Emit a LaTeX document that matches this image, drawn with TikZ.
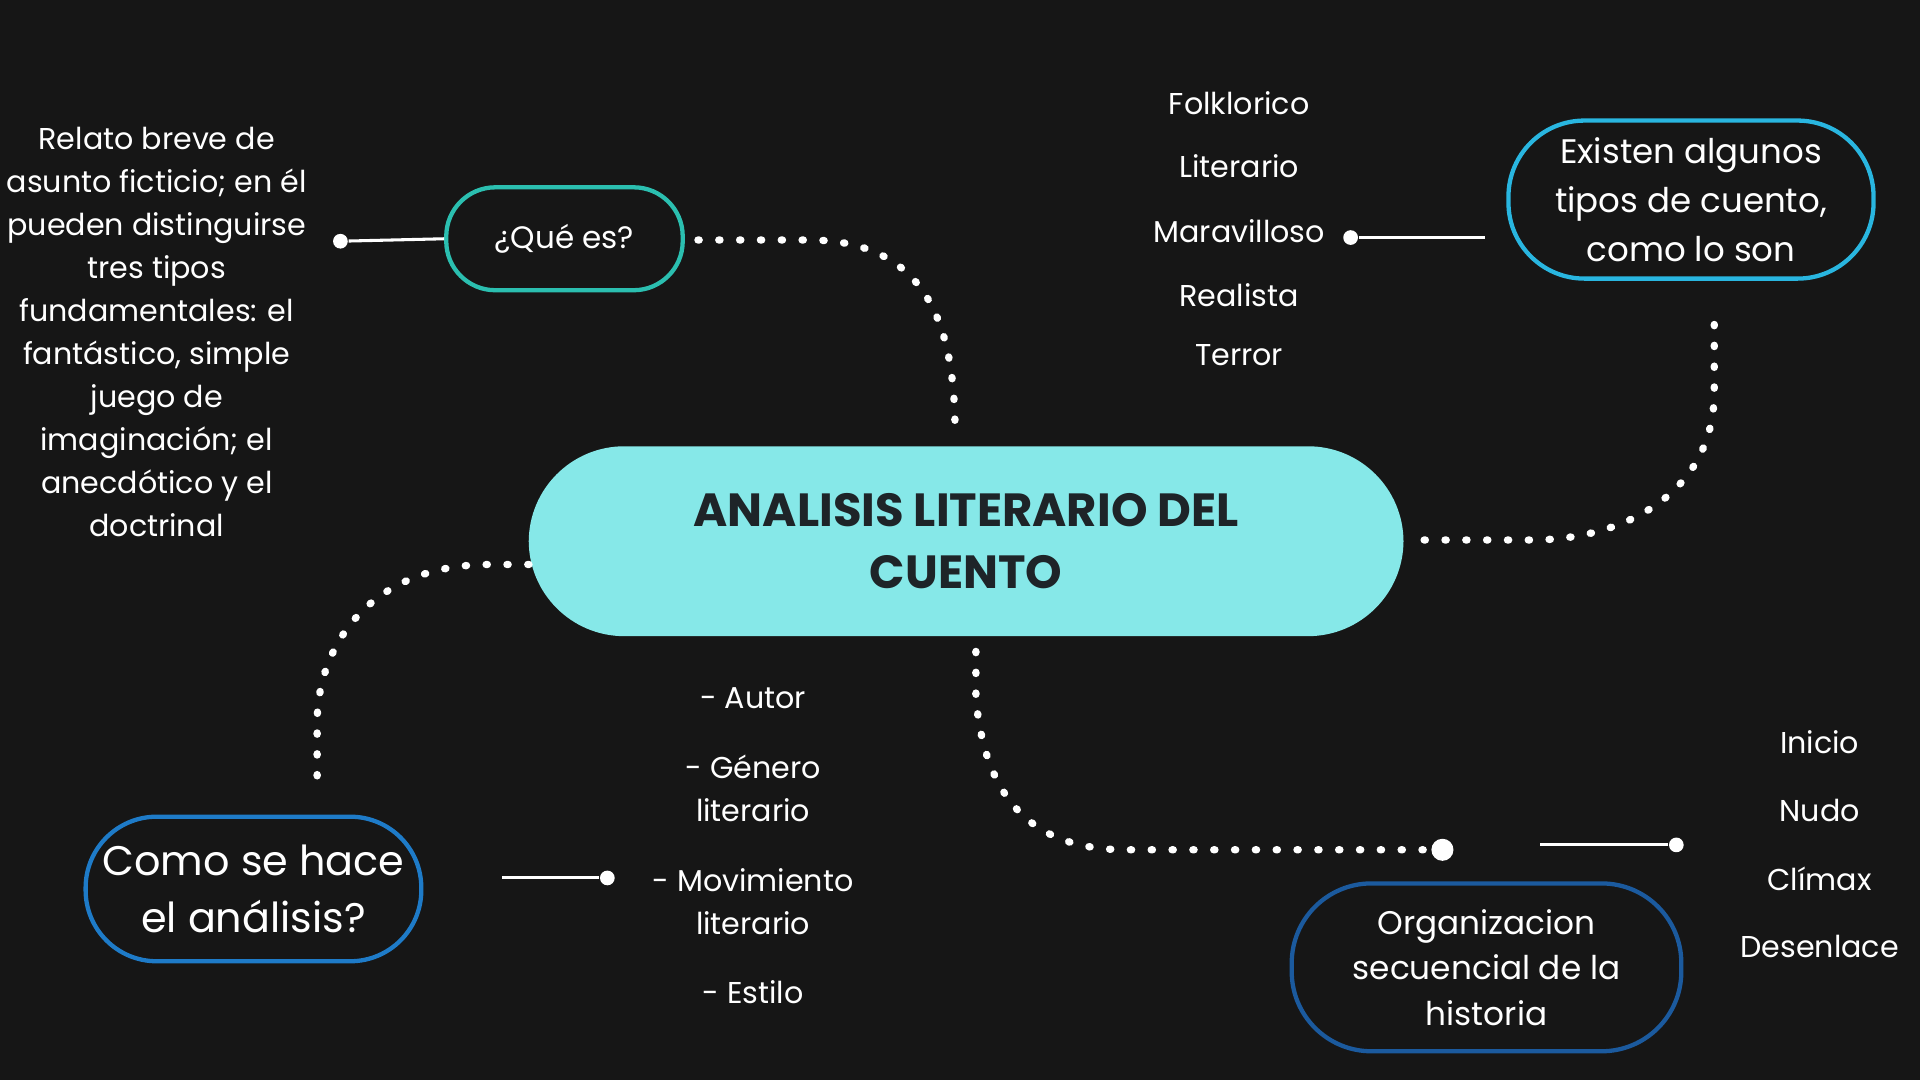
\documentclass[tikz,border=0pt]{standalone}
\usepackage{fontspec}
\setmainfont{Poppins}
\begin{document}
\begin{tikzpicture}[x=0.01cm,y=-0.01cm,
  dots/.style={white,line width=0.06cm,line cap=round,dash pattern=on 0.01cm off 0.16cm},
  thin/.style={white,line width=0.025cm},
  txt/.style={text=white,align=center,font=\fontsize{7}{10}\selectfont},
  box/.style={draw,line width=0.035cm,rounded corners=0.4cm,text=white,align=center},
  dot/.style={circle,fill=white,inner sep=0,minimum size=0.12cm}]
\fill[fill={rgb,255:red,22;green,22;blue,22}] (0,0) rectangle (1568,882);
\useasboundingbox (0,0) rectangle (1568,882);
% centre
\node[fill={rgb,255:red,134;green,232;blue,232},rounded corners=0.78cm,minimum width=7.14cm,minimum height=1.55cm,align=center,font=\fontsize{10.8}{14.5}\selectfont\bfseries,text={rgb,255:red,30;green,36;blue,40}] (c) at (789,442) {ANALISIS LITERARIO DEL\\CUENTO};
% que es
\node[box,draw={rgb,255:red,43;green,191;blue,176},minimum width=1.93cm,minimum height=0.84cm,font=\fontsize{7.2}{10}\selectfont] (q) at (461,195) {¿Qué es?};
\node[dot] (qd) at (278,197) {};
\draw[thin] (qd) -- (q.west);
\node[txt] (qt) at (128,271) {Relato breve de\\asunto ficticio; en él\\pueden distinguirse\\tres tipos\\fundamentales: el\\fantástico, simple\\juego de\\imaginación; el\\anecdótico y el\\doctrinal};
\coordinate (a1) at (570,196);
\coordinate (a2) at (780,355);
\draw[dots] (a1) -- (660,196) .. controls (760,196) and (780,270) .. (a2);
% tipos
\node[box,draw={rgb,255:red,41;green,182;blue,224},rounded corners=0.62cm,minimum width=2.98cm,minimum height=1.29cm,font=\fontsize{7.9}{11.4}\selectfont] (t) at (1381,163) {Existen algunos\\tipos de cuento,\\como lo son};
\node[dot] (td) at (1103,194) {};
\coordinate (te) at (1213,194);
\draw[thin] (td) -- (te);
\foreach \s/\y [count=\i] in {Folklorico/84,Literario/136,Maravilloso/189,Realista/241,Terror/290}
  \node[txt] (tl\i) at (1012,\y) {\s};
\coordinate (b1) at (1400,265);
\coordinate (b2) at (1150,441);
\draw[dots] (b1) -- (1400,320) .. controls (1400,400) and (1330,441) .. (1250,441) -- (b2);
% como
\node[box,draw={rgb,255:red,30;green,123;blue,200},rounded corners=0.58cm,minimum width=2.74cm,minimum height=1.18cm,font=\fontsize{9.6}{13.2}\selectfont] (m) at (207,726) {Como se hace\\el análisis?};
\coordinate (c1) at (432,461);
\coordinate (c2) at (259,640);
\draw[dots] (c1) -- (400,461) .. controls (300,461) and (259,530) .. (259,590) -- (c2);
\coordinate (ms) at (410,717);
\node[dot] (md) at (496,717) {};
\draw[thin] (ms) -- (md);
\node[txt] (m1) at (615,570) {- Autor};
\node[txt] (m2) at (615,644) {- Género\\literario};
\node[txt] (m3) at (615,736) {- Movimiento\\literario};
\node[txt] (m4) at (615,810) {- Estilo};
% organizacion
\node[box,draw={rgb,255:red,27;green,90;blue,158},rounded corners=0.65cm,minimum width=3.18cm,minimum height=1.37cm,font=\fontsize{7.6}{10.6}\selectfont] (o) at (1214,790) {Organizacion\\secuencial de la\\historia};
\coordinate (d1) at (797,532);
\node[dot,minimum size=0.18cm] (od) at (1178,694) {};
\draw[dots] (d1) -- (797,570) .. controls (805,660) and (850,694) .. (920,694) -- (od);
\coordinate (os) at (1258,690);
\node[dot] (od2) at (1369,690) {};
\draw[thin] (os) -- (od2);
\foreach \s/\y [count=\i] in {Inicio/606,Nudo/662,Clímax/718,Desenlace/773}
  \node[txt] (ol\i) at (1486,\y) {\s};
\end{tikzpicture}
\end{document}
